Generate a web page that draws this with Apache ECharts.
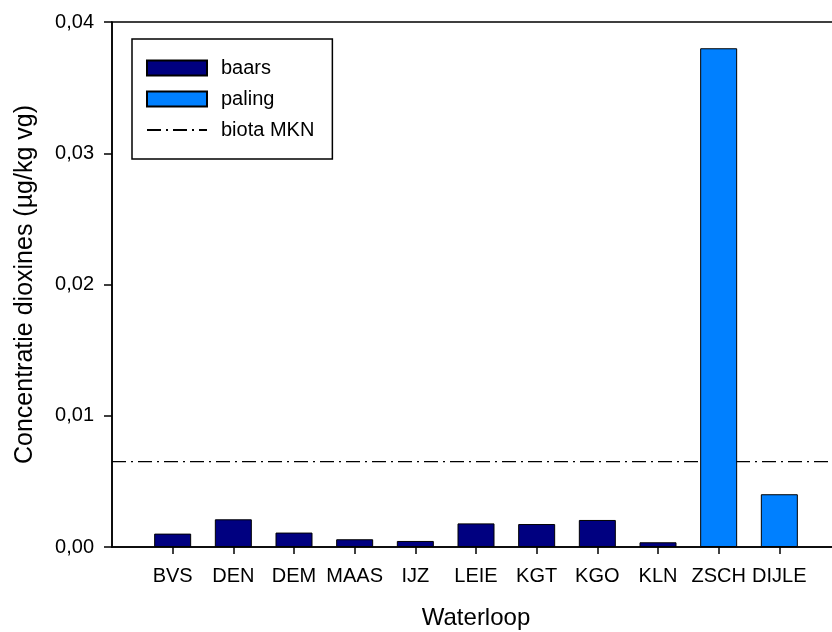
<!DOCTYPE html>
<html>
<head>
<meta charset="utf-8">
<script src="https://cdn.jsdelivr.net/npm/echarts@6/dist/echarts.min.js"></script>
<style>
  html, body { margin: 0; padding: 0; background: #fff; }
  #chart { width: 832px; height: 632px; }
</style>
</head>
<body>
<div id="chart"></div>
<script>
// waterlopen
const categories = ["BVS", "DEN", "DEM", "MAAS", "IJZ", "LEIE", "KGT", "KGO", "KLN", "ZSCH", "DIJLE"];
// concentratie dioxines (µg/kg vg)
const baars = [0.00102, 0.00211, 0.0011, 0.00059, 0.00046, 0.0018, 0.00175, 0.00206, 0.00036, null, null];
const paling = [null, null, null, null, null, null, null, null, null, 0.038, 0.00402];
const biotaMKN = 0.0065;
const yTicks = [0, 0.01, 0.02, 0.03, 0.04];

const font = "Liberation Sans, Arial, sans-serif";

// lege plaats voor en na de reeks, zoals in de originele figuur
const xData = ["", ...categories, ""];
const pad = arr => [null, ...arr, null];

const chart = echarts.init(document.getElementById("chart"));

chart.setOption({
  animation: false,
  backgroundColor: "#fff",
  textStyle: { fontFamily: font, color: "#000" },
  grid: {
    left: 112, top: 22, width: 728, height: 525,
    outerBoundsMode: "none",
    containLabel: false,
    show: true, borderColor: "#000", borderWidth: 1.5,
  },
  legend: {
    left: 132, top: 39,
    orient: "vertical",
    padding: [19, 18, 19, 14],
    borderColor: "#000", borderWidth: 1.5,
    itemWidth: 60, itemHeight: 15, itemGap: 11,
    textStyle: { fontSize: 20, fontFamily: font, color: "#000", padding: [0, 0, 0, 9] },
    data: [
      { name: "baars", icon: "rect" },
      { name: "paling", icon: "rect" },
      { name: "biota MKN", itemStyle: { opacity: 0 } },
    ],
  },
  xAxis: {
    type: "category",
    data: xData,
    boundaryGap: false,
    name: "Waterloop",
    nameLocation: "middle",
    nameGap: 59,
    nameTextStyle: { fontSize: 24, fontFamily: font, color: "#000" },
    axisLine: { lineStyle: { color: "#000", width: 1.5 } },
    axisTick: {
      length: 7,
      interval: i => i > 0 && i < xData.length - 1,
      lineStyle: { color: "#000", width: 1.5 },
    },
    axisLabel: { interval: 0, margin: 19, fontSize: 20, fontFamily: font, color: "#000" },
    splitLine: { show: false },
  },
  yAxis: {
    type: "value",
    min: yTicks[0],
    max: yTicks[yTicks.length - 1],
    interval: 0.01,
    name: "Concentratie dioxines (µg/kg vg)",
    nameLocation: "middle",
    nameGap: 74,
    nameTextStyle: { fontSize: 25, fontFamily: font, color: "#000" },
    axisLine: { show: true, lineStyle: { color: "#000", width: 1.5 } },
    axisTick: { show: true, length: 8, lineStyle: { color: "#000", width: 1.5 } },
    axisLabel: {
      margin: 18, fontSize: 20, fontFamily: font, color: "#000",
      formatter: v => v.toFixed(2).replace(".", ","),
    },
    splitLine: { show: false },
  },
  series: [
    {
      name: "baars",
      type: "bar",
      data: pad(baars),
      barWidth: 37,
      barGap: "-100%",
      z: 3,
      itemStyle: { color: "#000080", borderColor: "#000", borderWidth: 1 },
    },
    {
      name: "paling",
      type: "bar",
      data: pad(paling),
      barWidth: 37,
      barGap: "-100%",
      z: 3,
      itemStyle: { color: "#0080ff", borderColor: "#000", borderWidth: 1 },
    },
    {
      name: "biota MKN",
      type: "line",
      data: xData.map(() => biotaMKN),
      symbol: "none",
      z: 1,
      lineStyle: { color: "#000", width: 1.2, type: [14, 5, 2, 5] },
      itemStyle: { color: "#000" },
    },
  ],
});
</script>
</body>
</html>
